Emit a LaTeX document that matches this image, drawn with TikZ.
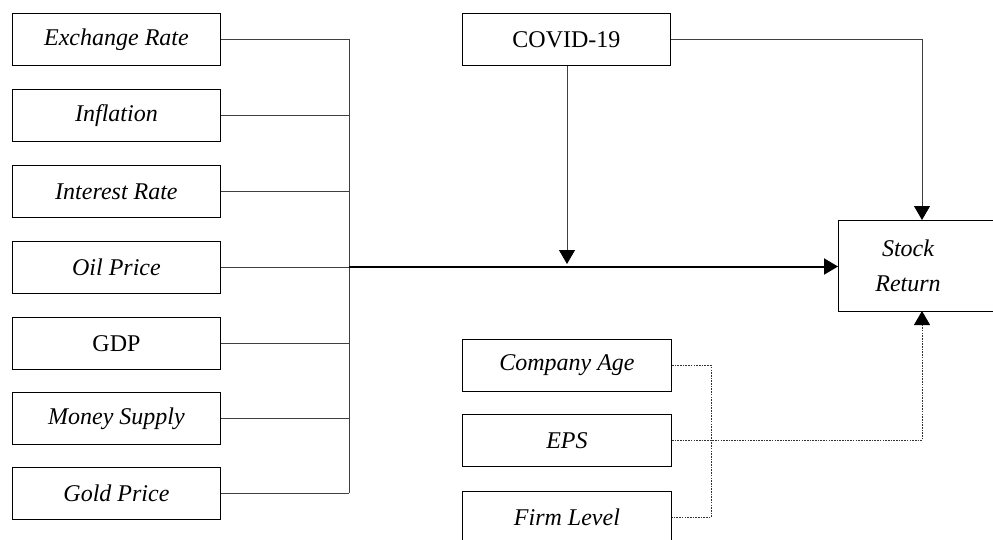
\documentclass[tikz,border=0pt]{standalone}
\usepackage{fontspec}
\setmainfont{Liberation Serif}
\usetikzlibrary{arrows.meta}
\begin{document}
\begin{tikzpicture}[x=1pt,y=-1pt,
  box/.style={draw=black,line width=0.9pt,minimum width=208pt,minimum height=52pt,
    inner sep=0pt,font=\fontsize{24}{28}\selectfont\itshape,anchor=north west},
  upright/.style={font=\fontsize{24}{28}\selectfont},
  link/.style={draw=black!75,line width=0.8pt},
  dotlink/.style={draw=black!80,line width=0.9pt,dash pattern=on 1.6pt off 1.1pt},
  tip/.style={-{Triangle[length=14pt,width=16pt,color=black]}}]
\useasboundingbox (0,0) rectangle (993,539);

% macroeconomic variables
\node[box] (ex)  at (12,13)  {Exchange Rate};
\node[box] (inf) at (12,89)  {Inflation};
\node[box] (ir)  at (12,165) {Interest Rate};
\node[box] (oil) at (12,241) {Oil Price};
\node[box,upright] (gdp) at (12,317) {GDP};
\node[box] (ms)  at (12,392) {Money Supply};
\node[box] (gold) at (12,467) {Gold Price};

% moderator and outcome
\node[box,upright] (covid) at (462,13) {COVID-19};
\node[draw=black,line width=0.9pt,minimum width=165pt,minimum height=91pt,anchor=north west,inner sep=0pt] (sr) at (838,220) {};
\node[font=\fontsize{24}{35}\selectfont\itshape,align=center] (srtext) at (908,266) {Stock\\Return};

% firm-level controls
\node[box,minimum width=209pt] (age) at (462,339) {Company Age};
\node[box,minimum width=209pt] (eps) at (462,414) {EPS};
\begin{scope}
\clip (0,0) rectangle (993,539);
\node[box,minimum width=209pt] (firm) at (462,491) {Firm Level};
\end{scope}

% bus collecting the macro variables
\coordinate (bustop) at (349,39);
\coordinate (busbot) at (349,493);
\coordinate (busmid) at (349,266.5);
\draw[link] (bustop) -- (busbot);
\foreach \n in {ex,inf,ir,oil,gdp,ms,gold}
  \draw[link] (\n.east) -- (\n.east -| bustop);

% main effect
\draw[line width=2pt,tip] (busmid) -- (sr.west |- busmid);

% COVID-19 moderation
\coordinate (mod) at (567,264);
\draw[link,tip] (covid.south -| mod) -- (mod);
\coordinate (srtop) at (922,220);
\draw[link,tip] (covid.east) -| (srtop);

% controls
\coordinate (cbus) at (711,364);
\coordinate (srbot) at (922,311);
\draw[dotlink] (age.east) -- (age.east -| cbus) -- (firm.east -| cbus) -- (firm.east);
\draw[dotlink,tip] (eps.east) -| (srbot);
\end{tikzpicture}
\end{document}
